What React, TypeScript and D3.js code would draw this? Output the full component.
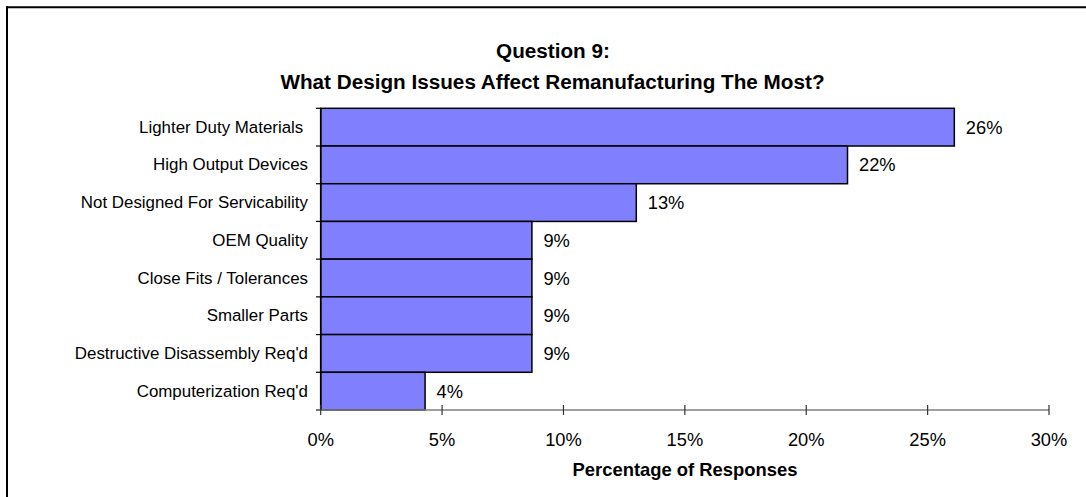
import React from "react";
import * as d3 from "d3";

const categories = [
  "Lighter Duty Materials ",
  "High Output Devices",
  "Not Designed For Servicability",
  "OEM Quality",
  "Close Fits / Tolerances",
  "Smaller Parts",
  "Destructive Disassembly Req'd",
  "Computerization Req'd",
];
const values = [26.1, 21.7, 13.0, 8.7, 8.7, 8.7, 8.7, 4.3];
const valueLabels = ["26%", "22%", "13%", "9%", "9%", "9%", "9%", "4%"];
const xTicks = [0, 5, 10, 15, 20, 25, 30];
const titleLines = ["Question 9:", "What Design Issues Affect Remanufacturing The Most?"];
const xTitle = "Percentage of Responses";

const W = 1086;
const H = 497;
const FONT = "Arial, 'Liberation Sans', sans-serif";

export default function App() {
  const x = d3.scaleLinear().domain([0, 30]).range([320.7, 1049]);
  const y = d3.scaleBand<string>().domain(categories).range([108.3, 410]).padding(0);
  const axisY = 410;

  return (
    <svg
      width={W}
      height={H}
      style={{ position: "absolute", left: 0, top: 0, background: "#fff", overflow: "hidden" }}
      fontFamily={FONT}
    >
      <rect x={0} y={0} width={W} height={H} fill="#fff" />
      {/* outer frame: only top and left edges are visible */}
      <line x1={6} x2={W} y1={7.3} y2={7.3} stroke="#000" strokeWidth={2} />
      <line x1={7} x2={7} y1={6.3} y2={H} stroke="#000" strokeWidth={2} />

      {/* title */}
      <text x={553} y={57.5} textAnchor="middle" fontWeight="bold" fontSize={20.7}>
        {titleLines[0]}
      </text>
      <text x={552.5} y={88.5} textAnchor="middle" fontWeight="bold" fontSize={20.7}>
        {titleLines[1]}
      </text>

      {/* bars */}
      {categories.map((c, i) => (
        <g key={c}>
          <rect
            x={x(0)}
            y={y(c)!}
            width={x(values[i]) - x(0)}
            height={y.bandwidth()}
            fill="#8080FF"
            stroke="#000"
            strokeWidth={1.5}
          />
          <text
            x={x(values[i]) + 11.5}
            y={y(c)! + y.bandwidth() / 2}
            dominantBaseline="central"
            fontSize={18.3}
          >
            {valueLabels[i]}
          </text>
          <text
            x={308}
            y={y(c)! + y.bandwidth() / 2}
            dominantBaseline="central"
            textAnchor="end"
            fontSize={16.9}
            style={{ whiteSpace: "pre" }}
          >
            {c}
          </text>
        </g>
      ))}

      {/* y axis */}
      <line x1={x(0)} x2={x(0)} y1={y.range()[0]} y2={axisY} stroke="#000" strokeWidth={1.5} />
      {[...categories.map((c) => y(c)!), axisY].map((v, i) => (
        <line key={i} x1={316} x2={x(0)} y1={v} y2={v} stroke="#000" strokeWidth={1.2} />
      ))}

      {/* x axis */}
      <line x1={316} x2={x(30)} y1={axisY} y2={axisY} stroke="#808080" strokeWidth={1.5} />
      {xTicks.map((t) => (
        <g key={t}>
          <line x1={x(t)} x2={x(t)} y1={axisY - 5} y2={axisY + 5} stroke="#333" strokeWidth={1.2} />
          <text x={x(t)} y={445.5} textAnchor="middle" fontSize={18.3}>
            {t}%
          </text>
        </g>
      ))}

      <text x={685} y={476} textAnchor="middle" fontWeight="bold" fontSize={18.4}>
        {xTitle}
      </text>
    </svg>
  );
}
